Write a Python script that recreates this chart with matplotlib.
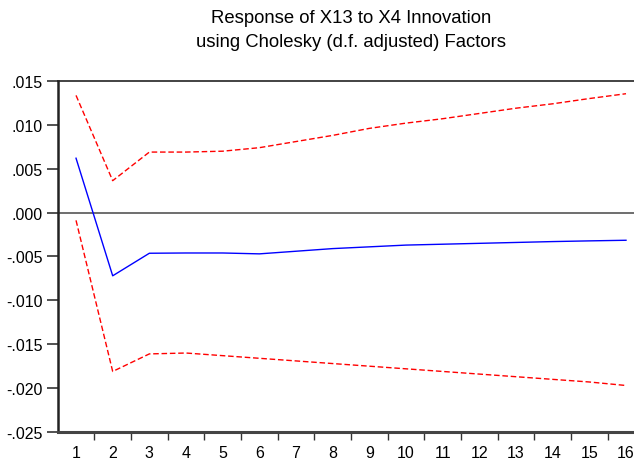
import numpy as np
import matplotlib
matplotlib.use("Agg")
import matplotlib.pyplot as plt
from matplotlib.ticker import FuncFormatter

plt.rcParams['font.family'] = ['Liberation Sans', 'DejaVu Sans']

# Impulse response periods and values
periods = list(range(1, 17))
response = [0.0062, -0.0072, -0.00463, -0.0046, -0.0046, -0.0047, -0.0044, -0.0041,
            -0.0039, -0.0037, -0.0036, -0.0035, -0.0034, -0.0033, -0.00322, -0.00315]
upper = [0.01336, 0.00364, 0.0069, 0.0069, 0.0070, 0.0074, 0.0081, 0.0088,
         0.0096, 0.0102, 0.0107, 0.0113, 0.0119, 0.0124, 0.0130, 0.01355]
lower = [-0.00088, -0.0181, -0.0161, -0.0160, -0.0163, -0.0166, -0.0169, -0.0172,
         -0.0175, -0.0178, -0.0181, -0.0184, -0.0187, -0.0190, -0.0193, -0.0197]
y_ticks = [0.015, 0.010, 0.005, 0.0, -0.005, -0.010, -0.015, -0.020, -0.025]

title = "Response of X13 to X4 Innovation\nusing Cholesky (d.f. adjusted) Factors"


def eviews_fmt(v, pos):
    s = f"{v:.3f}"
    if s.startswith("-0"):
        return "-" + s[2:]
    if s.startswith("0"):
        return s[1:]
    return s


fig = plt.figure(figsize=(6.34, 4.64), dpi=100)
ax = fig.add_axes([0.091, 0.0668, 0.9253, 0.7565])

ax.axhline(0, color='#555555', linewidth=1.2, zorder=1)
ax.plot(periods, upper, color='#ff0000', linestyle=(0, (4, 2)), linewidth=1.0)
ax.plot(periods, lower, color='#ff0000', linestyle=(0, (4, 2)), linewidth=1.0)
ax.plot(periods, response, color='#0000ff', linewidth=1.0)

ax.set_xlim(0.5, 16.5)
ax.set_ylim(-0.025, 0.015)
ax.set_yticks(y_ticks)
ax.yaxis.set_major_formatter(FuncFormatter(eviews_fmt))
ax.set_xticks(periods)
ax.set_xticks([p + 0.5 for p in periods[:-1]], minor=True)
ax.tick_params(axis='x', which='major', length=0, pad=9, labelsize=11.5)
ax.tick_params(axis='x', which='minor', length=6, width=1, direction='out', color='#333333')
ax.tick_params(axis='y', length=8, width=1.2, direction='out', color='#333333', labelsize=11.5, pad=3)

ax.spines['right'].set_visible(False)
ax.spines['left'].set_linewidth(1.8)
ax.spines['left'].set_color('#222222')
ax.spines['bottom'].set_linewidth(2.2)
ax.spines['bottom'].set_color('#444444')
ax.spines['top'].set_linewidth(1.2)
ax.spines['top'].set_color('#222222')

# title is centred over the (partly cropped) plot area, not the figure
fig.text(0.5536, 0.978, title, ha='center', va='top', fontsize=13.3, linespacing=1.5)

fig.savefig("out.png", dpi=100)
